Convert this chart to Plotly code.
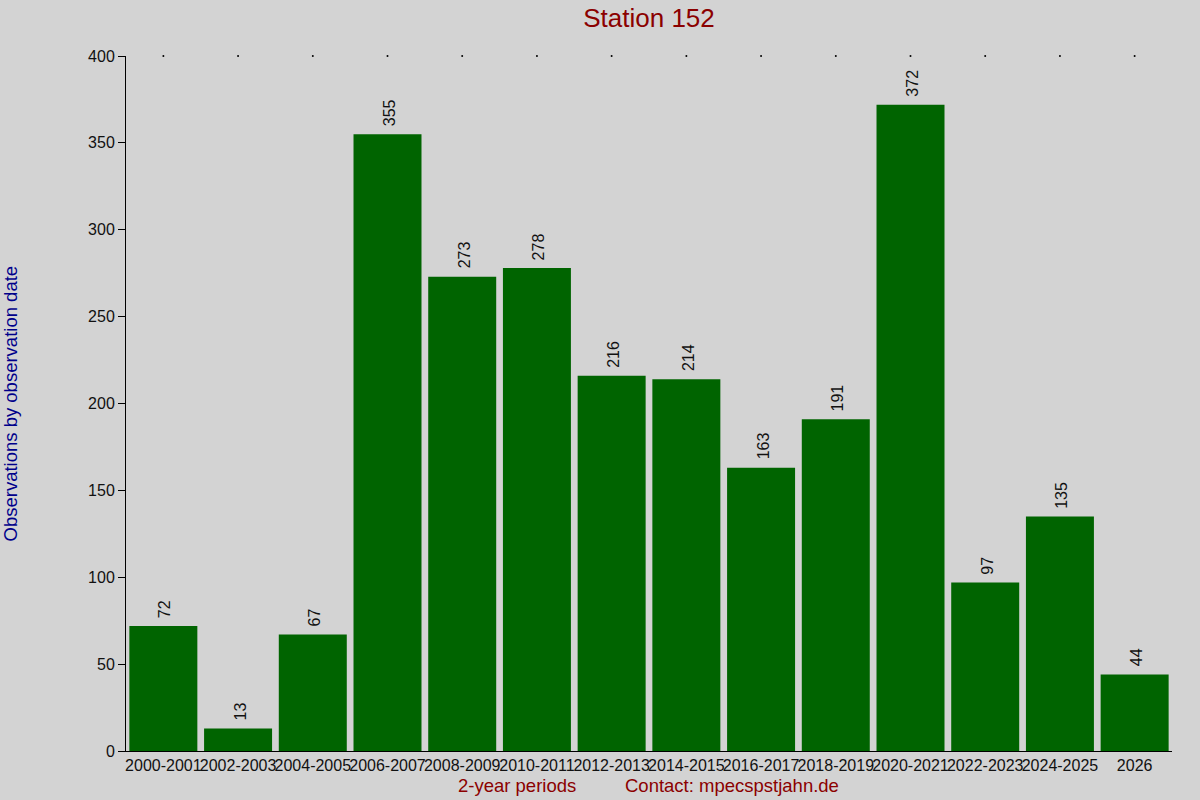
import plotly.graph_objects as go

periods = ["2000-2001", "2002-2003", "2004-2005", "2006-2007", "2008-2009", "2010-2011",
           "2012-2013", "2014-2015", "2016-2017", "2018-2019", "2020-2021", "2022-2023",
           "2024-2025", "2026"]
counts = [72, 13, 67, 355, 273, 278, 216, 214, 163, 191, 372, 97, 135, 44]
y_max = 400
y_ticks = [0, 50, 100, 150, 200, 250, 300, 350, 400]

title_text = "Station 152"
y_title = "Observations by observation date"
x_title = "2-year periods"
contact = "Contact: mpecspstjahn.de"

font = "Liberation Sans, Arial, sans-serif"

fig = go.Figure()
fig.add_trace(go.Bar(
    x=periods, y=counts, marker=dict(color="#006400", line=dict(width=0)),
    cliponaxis=False, hoverinfo="skip",
))
fig.add_trace(go.Scatter(
    x=periods, y=[y_max] * len(periods), mode="markers",
    marker=dict(size=2, color="black"), cliponaxis=False, hoverinfo="skip",
))

# category index positions for the value labels (string "2026" would be read as an index)
annotations = [
    dict(x=i, y=c, xref="x", yref="y", text=str(c), textangle=-90, showarrow=False,
         xanchor="center", yanchor="bottom", yshift=6, xshift=2,
         font=dict(size=16, color="#111111"))
    for i, c in enumerate(counts)
]
annotations += [
    dict(text=y_title, xref="paper", yref="paper", x=(10 - 126) / 1046, y=0.5,
         textangle=-90, showarrow=False, xanchor="center", yanchor="middle",
         font=dict(size=18.5, color="#00008b")),
    dict(text=x_title, xref="paper", yref="paper", x=(517 - 126) / 1046, y=-0.05,
         showarrow=False, xanchor="center", yanchor="middle",
         font=dict(size=18.5, color="#8b0000")),
    dict(text=contact, xref="paper", yref="paper", x=(732 - 126) / 1046, y=-0.05,
         showarrow=False, xanchor="center", yanchor="middle",
         font=dict(size=18.5, color="#8b0000")),
]

fig.update_layout(
    width=1200, height=800,
    paper_bgcolor="#d3d3d3", plot_bgcolor="#d3d3d3",
    margin=dict(l=126, r=28, t=56, b=49),
    showlegend=False, bargap=0.09,
    font=dict(family=font, size=16, color="#111111"),
    title=dict(text=title_text, x=0.5, xref="paper", y=0.978, yref="container",
               yanchor="middle", font=dict(size=26, color="#8b0000")),
    xaxis=dict(type="category", categoryorder="array", categoryarray=periods,
               range=[-0.5, len(periods) - 0.5], tickangle=0, automargin=False,
               showgrid=False, showline=True, linecolor="black", linewidth=1,
               ticks="", tickfont=dict(size=16, color="#111111"), zeroline=False,
               fixedrange=True),
    yaxis=dict(range=[0, y_max], tickvals=y_ticks, showgrid=False, showline=True,
               linecolor="black", linewidth=1, ticks="outside", ticklen=7,
               tickcolor="black", tickfont=dict(size=16, color="#111111"),
               zeroline=False, fixedrange=True, automargin=False),
    annotations=annotations,
)

fig.write_html("out.html", config={"displayModeBar": False},
               post_script="document.body.style.margin='0px';document.body.style.overflow='hidden';")
